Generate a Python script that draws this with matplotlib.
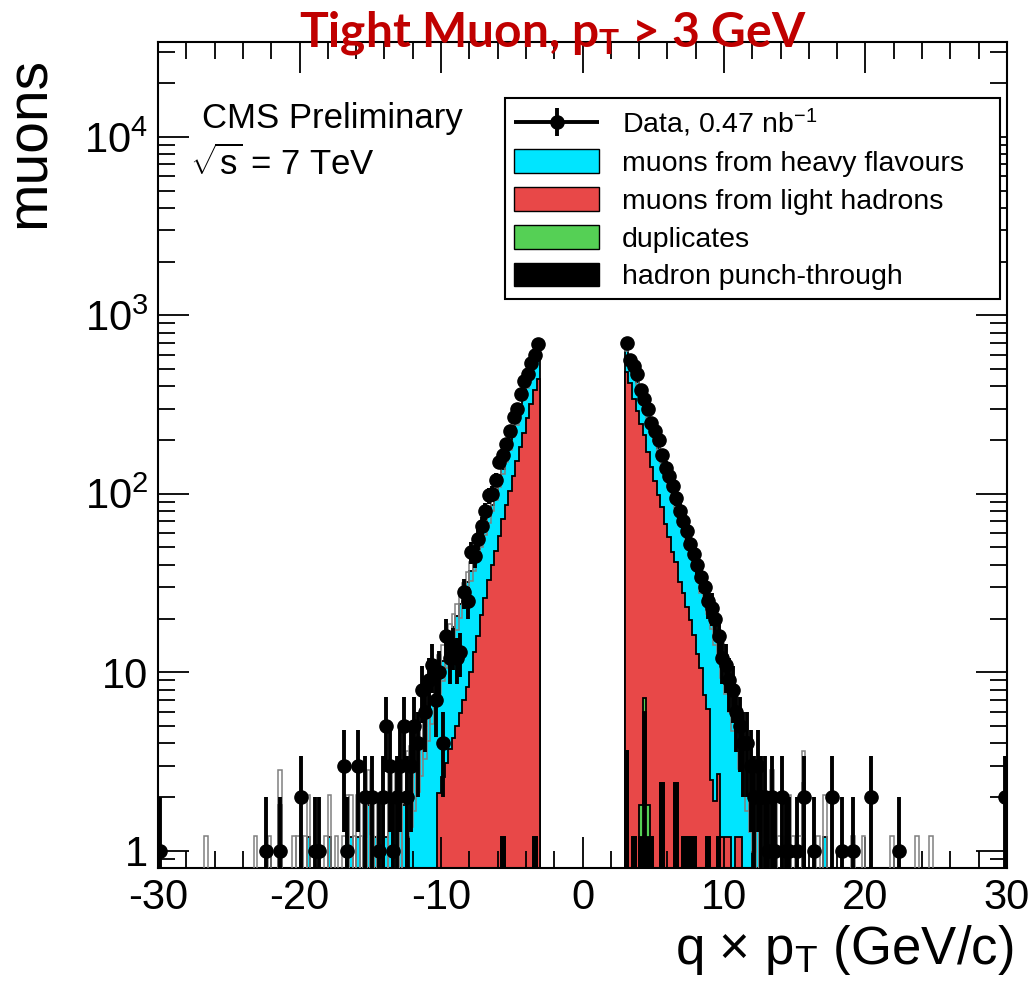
import numpy as np
import matplotlib.pyplot as plt
from matplotlib.patches import Patch
from matplotlib.legend_handler import HandlerErrorbar
from matplotlib.ticker import FixedLocator, FixedFormatter, MultipleLocator, LogLocator, NullFormatter

plt.rcParams['font.family'] = ['Liberation Sans', 'DejaVu Sans']
plt.rcParams['axes.unicode_minus'] = False
plt.rcParams['mathtext.fontset'] = 'custom'
plt.rcParams['mathtext.rm'] = 'Liberation Sans'
plt.rcParams['mathtext.it'] = 'Liberation Sans:italic'
plt.rcParams['mathtext.bf'] = 'Lato:bold'

# 0.25 GeV bins, each side listed outward from |q*pT| = 3 GeV
light_neg = [440, 380, 320, 265, 220, 183, 152, 126, 104, 86, 71, 58,
             48, 40, 33, 26, 21, 16, 13, 10, 8.3, 7.0, 5.9, 5.0,
             4.3, 3.7, 3.1, 2.6, 2.1, 0, 0, 0, 0, 0, 0, 0,
             0, 1.2, 0, 0, 0, 0, 0, 0, 0, 0, 0, 0,
             0, 0, 0, 0, 0, 0, 0, 0, 0, 0, 0, 0,
             0, 0, 0, 0, 0, 0, 0, 0, 0, 0, 0, 0,
             0, 0, 0, 0, 0, 0, 0, 0, 0, 0, 0, 0,
             0, 0, 0, 0, 0, 0, 0, 0, 0, 0, 0, 0,
             0, 0, 0, 0, 0, 0, 0, 0, 0, 0, 0, 0]
heavy_neg = [210, 176, 156, 143, 129, 116, 104, 93, 83, 74, 66, 59,
             52, 47, 42, 39, 35, 33, 29, 27, 23.7, 20.5, 18.1, 15.7,
             13.7, 11.8, 10.3, 9.0, 7.9, 8.6, 7.2, 6.0, 5.0, 4.2, 3.6, 3.0,
             2.6, 1.2, 1.8, 1.8, 1.8, 1.2, 1.8, 1.2, 1.2, 0.6, 1.2, 0.6,
             1.8, 1.2, 0.6, 1.2, 0.6, 1.2, 1.2, 0.6, 0, 0.6, 0, 1.2,
             0.6, 0, 0, 0, 0, 1.2, 0.6, 0.6, 0.6, 0.6, 0, 0,
             0, 1.8, 0, 0, 0.6, 0, 0, 0, 0.6, 0, 0, 0,
             0, 0, 0, 0, 0, 0, 0, 0, 0, 0, 0.6, 0,
             0, 0, 0, 0, 0, 0, 0, 0, 0, 0, 0, 0]
data_neg = [690, 600, 540, 470, 430, 360, 300, 270, 225, 190, 165, 150,
            120, 100, 98, 80, 66, 56, 45, 47, 25, 28, 13, 12,
            14, 12, 16, 4, 10, 7, 11, 9, 6, 8, 4, 5,
            3, 2, 5, 3, 2, 1, 3, 5, 2, 1, 0, 2,
            0, 2, 0, 3, 0, 0, 1, 3, 0, 0, 0, 0,
            0, 0, 1, 1, 0, 0, 0, 2, 0, 0, 0, 0,
            0, 1, 0, 0, 0, 1, 0, 0, 0, 0, 0, 0,
            0, 0, 0, 0, 0, 0, 0, 0, 0, 0, 0, 0,
            0, 0, 0, 0, 0, 0, 0, 0, 0, 0, 0, 1]

light_pos = [480, 420, 340, 290, 245, 205, 170, 140, 118, 98, 82, 68,
             57, 47, 39, 32, 26.5, 22, 18.5, 15, 12.6, 10.5, 7.5, 5.0,
             2.5, 1.9, 1.5, 1.2, 1.2, 1.2, 0, 1.2, 1.2, 0, 0, 0,
             0, 0, 0, 0, 0, 0, 0, 0, 0, 0, 0, 0,
             0, 0, 1.2, 0, 0, 0, 0, 0, 0, 0, 0, 0,
             0, 0, 0, 0, 0, 0, 0, 0, 0, 0, 0, 0,
             0, 0, 0, 0, 0, 0, 0, 0, 0, 0, 0, 0,
             0, 0, 0, 0, 0, 0, 0, 0, 0, 0, 0, 0,
             0, 0, 0, 0, 0, 0, 0, 0, 0, 0, 0, 0]
heavy_pos = [170, 145, 150, 135, 123, 114, 107, 100, 90, 82, 74, 67,
             60, 55, 49, 44, 39.5, 35, 31.5, 28, 24.4, 21.5, 20.5, 19,
             18.5, 15.6, 13, 10.8, 8.8, 7.0, 6.7, 4.3, 3.3, 3.7, 3.0, 2.5,
             2.1, 1.8, 1.8, 1.2, 1.2, 1.8, 1.2, 0.6, 1.2, 0.6, 1.2, 0.6,
             0, 0.6, 1.2, 0, 0, 0, 0.6, 0, 1.2, 0, 0, 0,
             0, 0, 0, 0, 0.6, 0, 0, 0.6, 0, 0, 0, 0,
             0, 0, 0, 0.6, 0, 0, 0, 0, 0, 0, 0.6, 0,
             0, 0, 0.6, 0, 0, 0, 0, 0, 0, 0, 0, 0,
             0, 0, 0, 0, 0, 0, 0, 0, 0, 0, 0, 0]
data_pos = [700, 560, 520, 470, 380, 340, 300, 250, 225, 200, 165, 140,
            125, 110, 95, 80, 70, 62, 52, 46, 40, 34, 30, 25,
            23, 20, 16, 12, 11, 9, 8, 6, 5, 4, 4, 3,
            2, 3, 2, 2, 1, 2, 1, 0, 2, 1, 1, 0,
            1, 0, 2, 0, 0, 1, 0, 0, 0, 0, 2, 0,
            0, 1, 0, 0, 1, 0, 0, 0, 0, 2, 0, 0,
            0, 0, 0, 0, 0, 1, 0, 0, 0, 0, 0, 0,
            0, 0, 0, 0, 0, 0, 0, 0, 0, 0, 0, 0,
            0, 0, 0, 0, 0, 0, 0, 0, 0, 0, 0, 2]

# sparse components (bin centre, weight)
punch_x = [-5.625, -3.375, 3.125, 3.625, 4.125, 4.375, 4.625, 4.875,
           5.625, 6.625, 7.125, 7.375, 7.625, 7.875, 8.875, 9.625]
punch_w = [1.2, 1.2, 3.6, 1.2, 1.2, 6.0, 1.2, 1.2,
           2.4, 2.4, 1.2, 1.2, 1.2, 1.2, 1.2, 1.2]
dup_x = [4.125, 4.375, 4.625]
dup_w = [0.6, 1.2, 0.6]
mc_weight = 0.6

edges = np.linspace(-30, 30, 241)
centers = 0.5 * (edges[:-1] + edges[1:])


def both(neg, pos):
    return np.concatenate([np.array(neg, float)[::-1], np.zeros(24), np.array(pos, float)])


light = both(light_neg, light_pos)
heavy = both(heavy_neg, heavy_pos)
data = both(data_neg, data_pos)
punch = np.histogram(punch_x, bins=edges, weights=punch_w)[0]
dup = np.histogram(dup_x, bins=edges, weights=dup_w)[0]

s_black = punch
s_green = punch + dup
s_red = s_green + light
s_cyan = s_red + heavy

cyan = '#00E5FF'
red = '#E84848'
green = '#55D055'
base = 1e-2


def pos(v):
    return np.where(v > 0, v, base)


fig = plt.figure(figsize=(10.31, 9.83), dpi=100)
ax = fig.add_axes([0.1533, 0.117, 0.8234, 0.8403])
ax.set_yscale('log')

for stack, col in [(s_cyan, cyan), (s_red, red), (s_green, green), (s_black, 'black')]:
    ax.stairs(pos(stack), edges, baseline=base, fill=True, color=col, lw=0)
    ax.stairs(pos(stack), edges, baseline=base, fill=False, color='black', lw=1.3)

# MC statistical uncertainty boxes
m = s_cyan > 0
err = np.sqrt(s_cyan[m] * mc_weight)
ax.bar(centers[m], 2 * err, bottom=np.maximum(s_cyan[m] - err, base), width=0.25,
       fill=False, edgecolor='#808080', lw=1.1, zorder=3)

# data
d = data > 0
yv = data[d]
lo = np.minimum(np.sqrt(yv), yv - base)
hi = np.sqrt(yv)
hdata = ax.errorbar(centers[d], yv, yerr=[lo, hi], xerr=0.125, fmt='o', color='black',
                    ms=9.5, elinewidth=2.8, capsize=0, zorder=5)

ax.set_xlim(-30, 30)
ax.set_ylim(0.8, 3.4e4)

ax.yaxis.set_major_locator(FixedLocator([1, 10, 100, 1000, 10000]))
ax.yaxis.set_major_formatter(FixedFormatter(['1', '10', '$10^{2}$', '$10^{3}$', '$10^{4}$']))
ax.yaxis.set_minor_locator(LogLocator(base=10, subs=np.arange(2, 10)))
ax.yaxis.set_minor_formatter(NullFormatter())
ax.xaxis.set_major_locator(MultipleLocator(10))
ax.xaxis.set_minor_locator(MultipleLocator(2))
ax.tick_params(which='both', direction='in', top=True, right=True, width=1.3)
ax.tick_params(which='major', length=22, labelsize=30, pad=7)
ax.tick_params(which='minor', length=12)
for sp in ax.spines.values():
    sp.set_linewidth(1.5)

ax.set_xlabel('q × p$_{\\mathrm{T}}$ (GeV/c)', fontsize=38, ha='right', va='top')
ax.xaxis.set_label_coords(1.008, -0.066)
ax.set_ylabel('muons', fontsize=41, loc='top')
ax.yaxis.set_label_coords(-0.12, 0.982)

ax.text(0.052, 0.896, 'CMS Preliminary', transform=ax.transAxes, fontsize=25, va='baseline')
ax.text(0.038, 0.839, '$\\sqrt{\\mathrm{s}}$ = 7 TeV', transform=ax.transAxes, fontsize=25,
        va='baseline')

handles = [hdata,
           Patch(facecolor=cyan, edgecolor='black'),
           Patch(facecolor=red, edgecolor='black'),
           Patch(facecolor=green, edgecolor='black'),
           Patch(facecolor='black', edgecolor='black')]
labels = ['Data, 0.47 nb$^{-1}$', 'muons from heavy flavours', 'muons from light hadrons',
          'duplicates', 'hadron punch-through']
leg = ax.legend(handles, labels, loc='upper left', bbox_to_anchor=(0.409, 0.690, 0.583, 0.242),
                mode='expand', borderaxespad=0, fontsize=20.5, handlelength=3.0,
                handleheight=0.9, labelspacing=0.36, borderpad=0.3, fancybox=False,
                framealpha=1, edgecolor='black',
                handler_map={type(hdata): HandlerErrorbar(xerr_size=1.5, yerr_size=0.5)})
leg.get_frame().set_linewidth(1.5)

fig.text(0.536, 0.953, 'Tight Muon, p$_{\\mathbf{T}}$ > 3 GeV', ha='center', va='baseline',
         color='#C00000', fontsize=34.5, family='Lato', weight='bold')

fig.savefig('out.png', dpi=100)
